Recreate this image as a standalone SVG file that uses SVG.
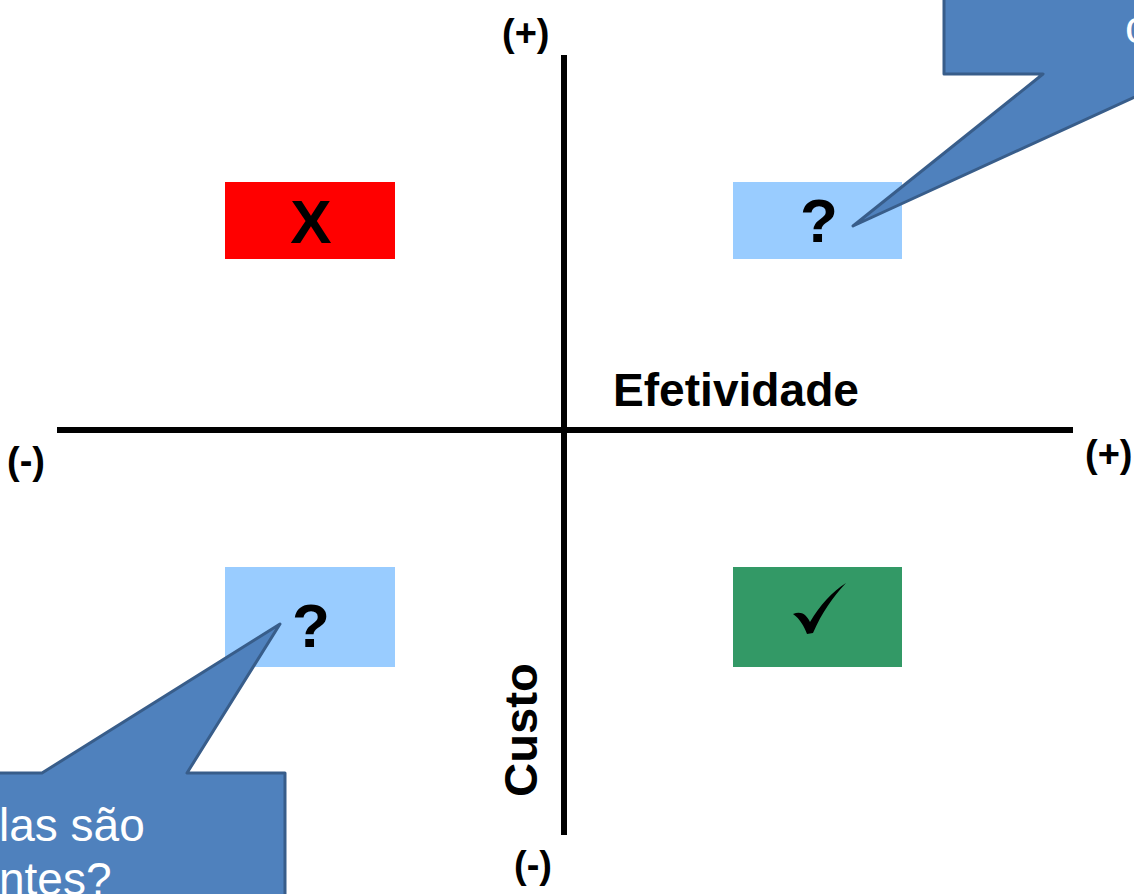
<svg xmlns="http://www.w3.org/2000/svg" width="1134" height="894" viewBox="0 0 1134 894">
  <style>
    .lbl { font-family: "Liberation Sans", Arial, sans-serif; font-weight: bold; fill: #000; }
    .sign { font-size: 38px; }
    .axis-title { font-size: 46px; }
    .mark { font-size: 62px; text-anchor: middle; }
    .callout { fill: #4F81BD; stroke: #385D8A; stroke-width: 3; stroke-linejoin: round; }
    .callout-text { font-family: "Liberation Sans", Arial, sans-serif; font-size: 46px; fill: #FFFFFF; }
    .axis { stroke: #000; stroke-width: 6; }
  </style>

  <rect width="1134" height="894" fill="#FFFFFF"/>

  <!-- axes -->
  <g id="connectors">
    <line class="axis" x1="564" y1="55" x2="564" y2="835"/>
    <line class="axis" x1="57" y1="430" x2="1073" y2="430"/>
  </g>

  <!-- axis end labels -->
  <g id="axis-labels">
    <text class="lbl sign" x="502" y="46">(+)</text>
    <text class="lbl sign" x="7" y="474">(-)</text>
    <text class="lbl sign" x="1085" y="467">(+)</text>
    <text class="lbl sign" x="514" y="878">(-)</text>
    <text class="lbl axis-title" x="613" y="406" textLength="246" lengthAdjust="spacingAndGlyphs">Efetividade</text>
    <text class="lbl axis-title" transform="translate(537 797) rotate(-90)" textLength="134" lengthAdjust="spacingAndGlyphs">Custo</text>
  </g>

  <!-- quadrant boxes -->
  <g id="box-high-cost-low-eff">
    <rect x="225" y="182" width="170" height="77" fill="#FF0000"/>
    <text class="lbl mark" x="311" y="243">X</text>
  </g>
  <g id="box-high-cost-high-eff">
    <rect x="733" y="182" width="169" height="77" fill="#99CCFF"/>
    <text class="lbl mark" x="819" y="242">?</text>
  </g>
  <g id="box-low-cost-low-eff">
    <rect x="225" y="567" width="170" height="100" fill="#99CCFF"/>
    <text class="lbl mark" x="311" y="647">?</text>
  </g>
  <g id="box-low-cost-high-eff">
    <rect x="733" y="567" width="169" height="100" fill="#339966"/>
    <!-- check mark -->
    <path d="M793 614 C801 611 806 614 810 622 C820 605 832 592 846 583 C833 597 822 612 813 633 L807 634 C804 626 800 619 793 614 Z" fill="#000"/>
  </g>

  <!-- callouts -->
  <g id="callout-top-right">
    <path class="callout" d="M944 -10 L1150 -10 L1150 90 L853 226 L1043 74 L944 74 Z"/>
    <text class="callout-text" x="1125" y="43">c</text>
  </g>
  <g id="callout-bottom-left">
    <path class="callout" d="M-10 773 L42 773 L280 624 L187 773 L285 773 L285 910 L-10 910 Z"/>
    <text class="callout-text" x="-1" y="841">las são</text>
    <text class="callout-text" x="-1" y="895">ntes?</text>
  </g>
</svg>
